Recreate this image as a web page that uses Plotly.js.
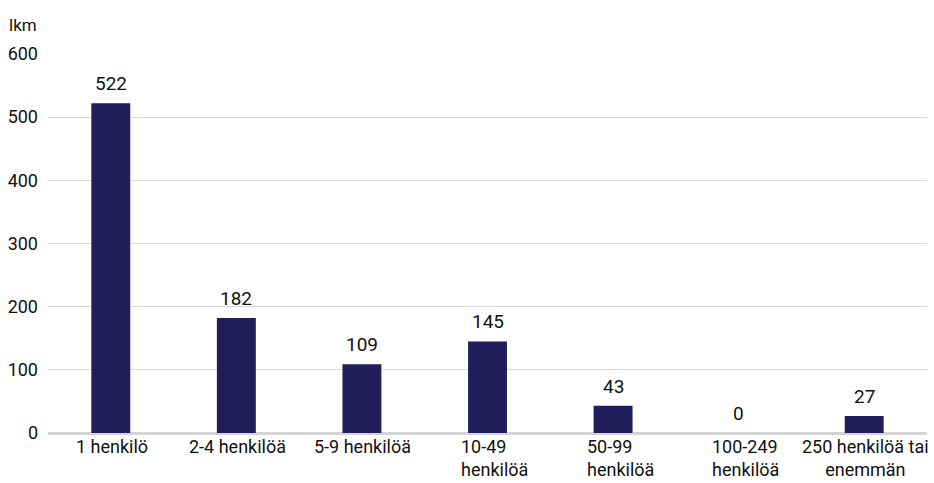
<!DOCTYPE html>
<html>
<head>
<meta charset="utf-8">
<script src="https://cdn.plot.ly/plotly-3.0.1.min.js"></script>
<style>
  html, body { margin: 0; padding: 0; background: #fff; }
  #chart { width: 934px; height: 483px; }
</style>
</head>
<body>
<div id="chart"></div>
<script>
// Yritykset henkilöstön koon mukaan
const categories = ['1 henkilö', '2-4 henkilöä', '5-9 henkilöä', '10-49 henkilöä', '50-99 henkilöä', '100-249 henkilöä', '250 henkilöä tai enemmän'];
const tickLabels = ['1 henkilö', '2-4 henkilöä', '5-9 henkilöä', '10-49<br>henkilöä', '50-99<br>henkilöä', '100-249<br>henkilöä', '250 henkilöä tai<br>enemmän'];
const counts = [522, 182, 109, 145, 43, 0, 27];
const yTicks = [0, 100, 200, 300, 400, 500, 600];

const FONT = 'Roboto, "Noto Sans", sans-serif';
const INK = '#111';

const trace = {
  type: 'bar',
  x: categories,
  y: counts,
  marker: { color: '#221e5c' },
  cliponaxis: false,
  hoverinfo: 'x+y'
};

// Value labels above each bar
const valueNotes = categories.map((c, i) => ({
  x: c, y: counts[i], xref: 'x', yref: 'y',
  text: String(counts[i]),
  showarrow: false,
  xanchor: 'center', yanchor: 'bottom',
  yshift: 6,
  font: { family: FONT, size: 19, color: INK }
}));

// Category labels under the axis; wrapped labels keep their lines flush left
const categoryNotes = categories.map((c, i) => {
  const lines = tickLabels[i].split('<br>');
  const wrapped = lines.length > 1 && lines[1].length > lines[0].length;
  return {
    x: c, y: 0, xref: 'x', yref: 'paper',
    text: tickLabels[i],
    showarrow: false,
    xanchor: 'center', yanchor: 'top',
    align: wrapped ? 'left' : 'center',
    xshift: wrapped ? 7 : 1,
    yshift: -1,
    font: { family: FONT, size: 18, color: INK }
  };
});

const layout = {
  width: 934,
  height: 483,
  margin: { l: 48, r: 7, t: 54, b: 50 },
  paper_bgcolor: '#fff',
  plot_bgcolor: '#fff',
  bargap: 0.69,
  showlegend: false,
  font: { family: FONT, size: 18, color: INK },
  xaxis: {
    type: 'category',
    range: [-0.5, categories.length - 0.5],
    autorange: false,
    showticklabels: false,
    showgrid: false,
    showline: false,
    ticks: '',
    automargin: false
  },
  yaxis: {
    range: [0, 600],
    autorange: false,
    tickvals: yTicks,
    tickfont: { family: FONT, size: 18, color: INK },
    showgrid: true,
    gridcolor: '#d9d9d9',
    gridwidth: 1,
    zeroline: true,
    zerolinecolor: '#d4d4d4',
    zerolinewidth: 3,
    ticks: '',
    ticklabelstandoff: 9,
    automargin: false
  },
  annotations: [
    {
      text: 'lkm',
      xref: 'paper', yref: 'paper',
      x: 0, y: 1, xshift: -9, yshift: 29,
      xanchor: 'right', yanchor: 'middle',
      showarrow: false,
      font: { family: FONT, size: 17, color: INK }
    },
    ...valueNotes,
    ...categoryNotes
  ]
};

Plotly.newPlot('chart', [trace], layout, { displayModeBar: false, staticPlot: true });
</script>
</body>
</html>
